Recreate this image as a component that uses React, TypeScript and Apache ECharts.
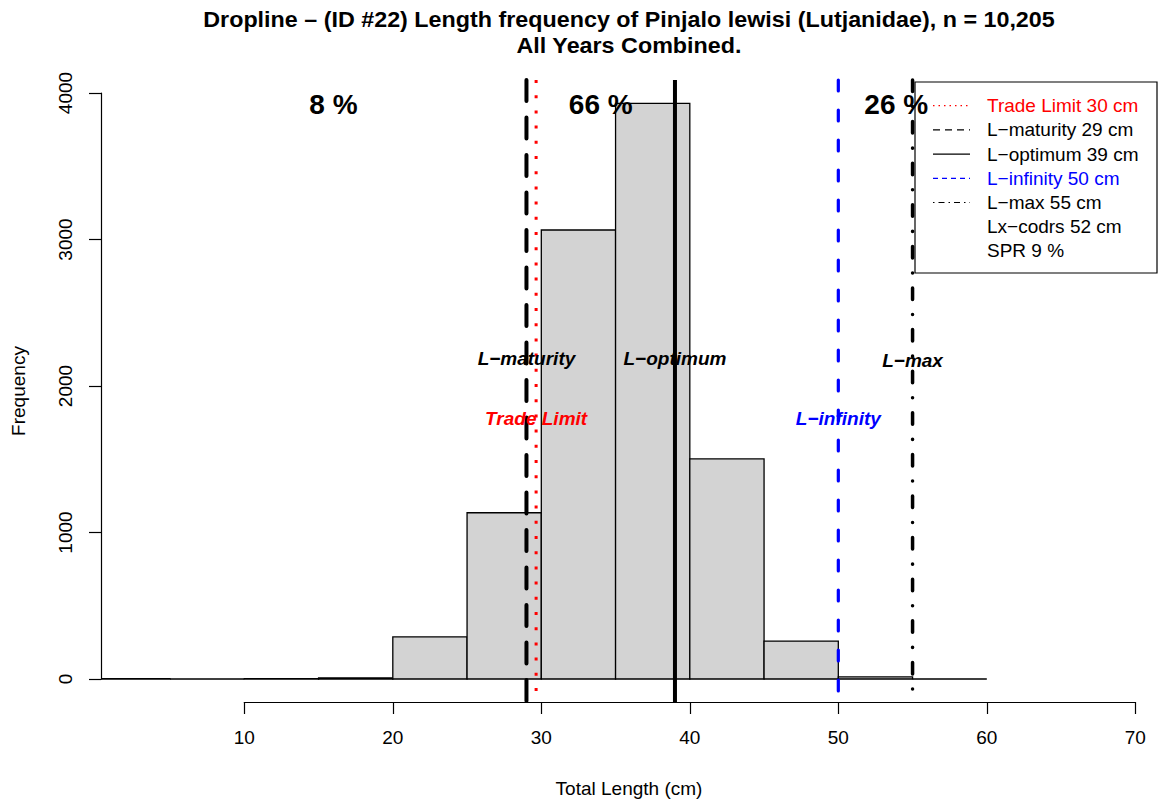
import React, { useEffect, useRef } from "react";
import * as echarts from "echarts";

// ---- data ----
const BIN_EDGES = [0, 5, 10, 15, 20, 25, 30, 35, 40, 45, 50, 55, 60];
const COUNTS = [3, 0, 2, 8, 287, 1135, 3065, 3930, 1502, 259, 14, 0];

const REF_NAMES = ["Trade Limit", "L\u2212maturity", "L\u2212optimum", "L\u2212infinity", "L\u2212max"];
const REF_VALUES = [29.65, 29, 39, 50, 55];
const REF_LABEL_Y = [1780, 2185, 2185, 1780, 2175];
const REF_COLORS = ["#ff0000", "#000000", "#000000", "#0000ff", "#000000"];

const PCT_LABELS = ["8 %", "66 %", "26 %"];
const PCT_X = [16, 34, 53.9];
const PCT_Y = [3920, 3920, 3920];

const LEGEND_LABELS = [
  "Trade Limit 30 cm",
  "L\u2212maturity 29 cm",
  "L\u2212optimum 39 cm",
  "L\u2212infinity 50 cm",
  "L\u2212max 55 cm",
  "Lx\u2212codrs 52 cm",
  "SPR 9 %",
];
const LEGEND_COLORS = ["#ff0000", "#000000", "#000000", "#0000ff", "#000000", "#000000", "#000000"];

const X_TICKS_MIN = 10;
const X_TICKS_MAX = 70;
const Y_TICKS_MIN = 0;
const Y_TICKS_MAX = 4000;

const TITLE_1 = "Dropline \u2013 (ID #22) Length frequency of Pinjalo lewisi (Lutjanidae), n = 10,205";
const TITLE_2 = "All Years Combined.";
const X_TITLE = "Total Length (cm)";
const Y_TITLE = "Frequency";

// plot region (R usr coordinates)
const X_MIN = 0.35;
const X_MAX = 71.46;
const Y_MIN = -157;
const Y_MAX = 4089;

const FONT = "'Liberation Sans', Arial, Helvetica, sans-serif";

// line styles for reference lines
const REF_STYLES = [
  { lineWidth: 3, lineDash: [3, 12.2], lineCap: "butt" },
  { lineWidth: 4, lineDash: [21, 16.5], lineCap: "round" },
  { lineWidth: 4, lineDash: null, lineCap: "butt" },
  { lineWidth: 3.2, lineDash: [11, 19], lineCap: "round" },
  { lineWidth: 3.5, lineDash: [11.5, 15, 0.1, 15], lineCap: "round" },
];
const LEGEND_LINE_STYLES = [
  { lineDash: [1.5, 4] },
  { lineDash: [7, 5] },
  { lineDash: null },
  { lineDash: [5, 4] },
  { lineDash: [1.5, 4, 6, 4] },
  null,
  null,
];

export default function App() {
  const ref = useRef<HTMLDivElement>(null);
  useEffect(() => {
    if (!ref.current) return;
    const chart = echarts.init(ref.current, null, { renderer: "svg" });

    const legendX = 915;
    const legendTop = 82;
    const legendW = 242;
    const legendH = 191;
    const rowY0 = 105.7;
    const rowStep = 24.2;
    const titleFont = "bold 22px 'Liberation Sans', Arial, sans-serif";

    const graphics: any[] = [
      {
        type: "text",
        x: 629,
        y: 19,
        scaleX: 1.06,
        style: {
          text: TITLE_1,
          font: titleFont,
          fill: "#000",
          align: "center",
          verticalAlign: "middle",
        },
      },
      {
        type: "text",
        x: 629,
        y: 45,
        scaleX: 1.06,
        style: {
          text: TITLE_2,
          font: titleFont,
          fill: "#000",
          align: "center",
          verticalAlign: "middle",
        },
      },
      {
        type: "text",
        x: 629,
        y: 788,
        style: { text: X_TITLE, font: "19px " + FONT, fill: "#000", align: "center", verticalAlign: "middle" },
      },
      {
        type: "text",
        x: 18,
        y: 391,
        rotation: Math.PI / 2,
        style: { text: Y_TITLE, font: "19px " + FONT, fill: "#000", align: "center", verticalAlign: "middle" },
      },
      {
        type: "rect",
        shape: { x: legendX, y: legendTop, width: legendW, height: legendH },
        style: { fill: "none", stroke: "#000", lineWidth: 1.2 },
        z: 100,
      },
    ];
    LEGEND_LABELS.forEach((lab, i) => {
      const y = rowY0 + i * rowStep;
      const ls = LEGEND_LINE_STYLES[i];
      if (ls) {
        graphics.push({
          type: "line",
          shape: { x1: 933, y1: y, x2: 970, y2: y },
          style: { stroke: LEGEND_COLORS[i], lineWidth: 1.2, lineDash: ls.lineDash || undefined },
          z: 100,
        });
      }
      graphics.push({
        type: "text",
        x: 987,
        y,
        style: { text: lab, font: "19px " + FONT, fill: LEGEND_COLORS[i], align: "left", verticalAlign: "middle" },
        z: 100,
      });
    });

    const barData = COUNTS.map((c, i) => [BIN_EDGES[i], BIN_EDGES[i + 1], c]);
    const refData = REF_VALUES.map((v, i) => [v, REF_LABEL_Y[i]]);
    const pctData = PCT_LABELS.map((_, i) => [PCT_X[i], PCT_Y[i]]);

    chart.setOption({
      animation: false,
      backgroundColor: "#ffffff",
      grid: [
        { left: 101, right: 4, top: 80, bottom: 101 },
        { left: 101, right: 4, top: 93, bottom: 124 },
        { left: 244.3, right: 25.7, top: 80, bottom: 101 },
      ],
      xAxis: [
        { gridIndex: 0, type: "value", min: X_MIN, max: X_MAX, show: false },
        { gridIndex: 1, type: "value", min: 0, max: 1, show: false },
        {
          gridIndex: 2,
          type: "value",
          min: X_TICKS_MIN,
          max: X_TICKS_MAX,
          interval: 10,
          position: "bottom",
          axisLine: { show: true, lineStyle: { color: "#000", width: 1.2 } },
          axisTick: { show: true, length: 12, inside: false, lineStyle: { color: "#000", width: 1.2 } },
          axisLabel: {
            show: true,
            color: "#000",
            fontSize: 19,
            fontFamily: FONT,
            margin: 26,
            formatter: (v: number) => String(v),
          },
          splitLine: { show: false },
        },
      ],
      yAxis: [
        { gridIndex: 0, type: "value", min: Y_MIN, max: Y_MAX, show: false },
        {
          gridIndex: 1,
          type: "value",
          min: Y_TICKS_MIN,
          max: Y_TICKS_MAX,
          interval: 1000,
          position: "left",
          axisLine: { show: true, lineStyle: { color: "#000", width: 1.2 } },
          axisTick: { show: true, length: 12, inside: false, lineStyle: { color: "#000", width: 1.2 } },
          axisLabel: {
            show: true,
            color: "#000",
            fontSize: 19,
            fontFamily: FONT,
            rotate: 90,
            margin: 26,
            formatter: (v: number) => String(v),
          },
          splitLine: { show: false },
        },
        { gridIndex: 2, type: "value", min: 0, max: 1, show: false },
      ],
      series: [
        {
          type: "custom",
          xAxisIndex: 0,
          yAxisIndex: 0,
          clip: true,
          data: barData,
          renderItem: (params: any, api: any) => {
            const p0 = api.coord([api.value(0), api.value(2)]);
            const p1 = api.coord([api.value(1), 0]);
            return {
              type: "polygon",
              shape: {
                points: [
                  [p0[0], p0[1]],
                  [p1[0], p0[1]],
                  [p1[0], p1[1]],
                  [p0[0], p1[1]],
                ],
              },
              style: { fill: "#d3d3d3", stroke: "#000", lineWidth: 1.3 },
            };
          },
        },
        {
          type: "custom",
          xAxisIndex: 0,
          yAxisIndex: 0,
          clip: false,
          data: refData,
          renderItem: (params: any, api: any) => {
            const i = params.dataIndex;
            const v = api.value(0);
            const top = api.coord([v, Y_MAX]);
            const bot = api.coord([v, Y_MIN]);
            const st = REF_STYLES[i];
            return {
              type: "line",
              shape: { x1: top[0], y1: top[1], x2: bot[0], y2: bot[1] },
              style: {
                stroke: REF_COLORS[i],
                lineWidth: st.lineWidth,
                lineDash: st.lineDash || undefined,
                lineCap: st.lineCap,
              },
            };
          },
        },
        {
          type: "custom",
          xAxisIndex: 0,
          yAxisIndex: 0,
          clip: false,
          data: refData,
          z: 5,
          renderItem: (params: any, api: any) => {
            const i = params.dataIndex;
            const p = api.coord([api.value(0), api.value(1)]);
            return {
              type: "text",
              x: p[0],
              y: p[1],
              style: {
                text: REF_NAMES[i],
                fill: REF_COLORS[i],
                font: "italic bold 19px " + FONT,
                align: "center",
                verticalAlign: "middle",
              },
            };
          },
        },
        {
          type: "custom",
          xAxisIndex: 0,
          yAxisIndex: 0,
          clip: false,
          data: pctData,
          z: 5,
          renderItem: (params: any, api: any) => {
            const i = params.dataIndex;
            const p = api.coord([api.value(0), api.value(1)]);
            return {
              type: "text",
              x: p[0],
              y: p[1],
              style: {
                text: PCT_LABELS[i],
                fill: "#000",
                font: "bold 28px " + FONT,
                align: "center",
                verticalAlign: "middle",
              },
            };
          },
        },
      ],
      graphic: graphics,
    });

    return () => {
      chart.dispose();
    };
  }, []);

  return (
    <div
      ref={ref}
      style={{ position: "absolute", left: 0, top: 0, width: 1161, height: 803, background: "#fff" }}
    />
  );
}
